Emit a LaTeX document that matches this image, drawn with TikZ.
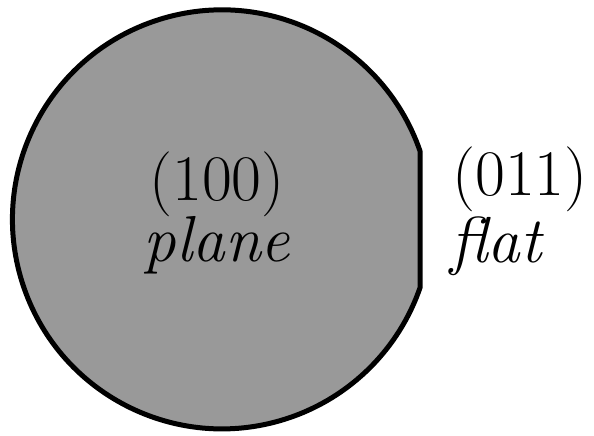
\documentclass[tikz,border=0pt]{standalone}
\usepackage{fontspec}
\usepackage{tikz}
\usetikzlibrary{positioning}

\begin{document}
\begin{tikzpicture}[
    x=1pt, y=1pt,
    wafer/.style   ={draw=black, line width=5pt, fill=black!40, line join=round},
    idxlbl/.style  ={inner sep=0pt, anchor=base, font=\fontsize{65}{67}\selectfont},
    wordlbl/.style ={inner sep=0pt, anchor=base, font=\fontsize{65}{67}\selectfont\itshape},
]
\useasboundingbox (0,0) rectangle (594,436);

% wafer with flat on the right
\draw[wafer] (420,148) -- (420,285)
    arc[start angle=19.05, end angle=340.95, radius=209.5] -- cycle;

\coordinate (ctr) at (217,235);
\node[idxlbl]                 (pidx)  at (ctr)      {(100)};
\node[wordlbl, below=61pt of pidx.base, anchor=base] (pname) {plane};

\coordinate (side) at (520,240);
\node[idxlbl]                 (fidx)  at (side)     {(011)};
\node[wordlbl, below=67pt of fidx.base west, anchor=base west, xshift=-2pt] (fname) {flat};

\end{tikzpicture}
\end{document}
